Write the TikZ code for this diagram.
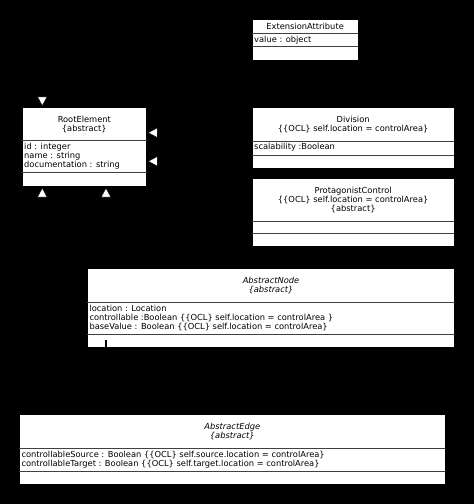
\documentclass[tikz,border=0pt]{standalone}
\usepackage{fontspec}
\setmainfont{DejaVu Sans}
\usetikzlibrary{arrows.meta}

\pgfdeclarelayer{back}
\pgfdeclarelayer{wires}
\pgfsetlayers{back,wires,main}

\tikzset{
    classbox/.style={draw=black, fill=white, line width=0.8pt, inner sep=0pt, outer sep=0pt},
    compsep/.style={draw=black!75, line width=0.9pt},
    classname/.style={align=center, inner sep=0pt, font=\fontsize{8.3}{9}\selectfont},
    classattr/.style={anchor=north west, align=left, inner xsep=2pt, inner ysep=2.2pt, font=\fontsize{8.3}{9}\selectfont},
    generalization/.style={draw=black, line width=0.4pt, shorten >=1.2pt,
        -{Triangle[length=9.5pt, width=10pt, fill=white]}},
}

% class box: name, left, top, right, first and second separator, bottom, title, attributes
\newcommand{\umlclass}[9]{%
    \node[classbox, anchor=north west, minimum width={(#4-#2)*1pt}, minimum height={(#7-#3)*1pt}] (#1) at (#2,#3) {};
    \draw[compsep] (#2,#5) -- (#4,#5);
    \draw[compsep] (#2,#6) -- (#4,#6);
    \node[classname] (#1-name) at ({(#2+#4)/2},{(#3+#5)/2}) {#8};
    \node[classattr] (#1-attr) at (#2,#5) {#9};
}

\begin{document}
\begin{tikzpicture}[x=1pt, y=-1pt]
    \useasboundingbox (0,0) rectangle (474,504);

    % Black canvas
    \begin{pgfonlayer}{back}
        \fill[black] (0,0) rectangle (474,504);
    \end{pgfonlayer}

    % Classes
    \umlclass{ExtensionAttribute}{252}{19.3}{358.3}{33.3}{46.7}{60}
        {ExtensionAttribute}{value : object}
    \umlclass{RootElement}{22}{107.3}{146.7}{140.8}{172.3}{186.5}
        {RootElement\\\{abstract\}}
        {id : integer\\name : string\\documentation : string}
    \umlclass{Division}{252}{107.3}{454.3}{141}{155}{168.3}
        {Division\\\{\{OCL\} self.location = controlArea\}}
        {scalability :Boolean}
    \umlclass{ProtagonistControl}{252}{178.3}{454.3}{221}{233.3}{246.7}
        {ProtagonistControl\\\{\{OCL\} self.location = controlArea\}\\\{abstract\}}{}
    \umlclass{AbstractNode}{87.3}{268.3}{454.7}{302.5}{334.5}{347.3}
        {\itshape AbstractNode\\\itshape\{abstract\}}
        {location : Location\\controllable :Boolean \{\{OCL\} self.location = controlArea \}\\baseValue : Boolean \{\{OCL\} self.location = controlArea\}}
    \umlclass{AbstractEdge}{19.3}{414.5}{445.3}{448.7}{471}{484.3}
        {\itshape AbstractEdge\\\itshape\{abstract\}}
        {controllableSource : Boolean \{\{OCL\} self.source.location = controlArea\}\\controllableTarget : Boolean \{\{OCL\} self.target.location = controlArea\}}

    % Generalizations (black lines, only the heads show)
    \begin{pgfonlayer}{wires}
        \draw[generalization] (ExtensionAttribute.west) -| ([xshift=20.3pt]RootElement.north west);
        \draw[generalization] (Division.west |- 0,132.7) -- (RootElement.east |- 0,132.7);
        \draw[generalization] (ProtagonistControl.west) -- ++(-50,0) |- (RootElement.east |- 0,161.3);
        \draw[generalization] (AbstractNode.west) -| ([xshift=20.3pt]RootElement.south west);
        \draw[generalization] (AbstractEdge.north -| 106,0) -- (RootElement.south -| 106,0);
    \end{pgfonlayer}

    % Stub of the edge line inside AbstractNode
    \coordinate (stubTop) at (106,340);
    \draw[black, line width=1.2pt] (stubTop) -- (stubTop |- AbstractNode.south);

\end{tikzpicture}
\end{document}
